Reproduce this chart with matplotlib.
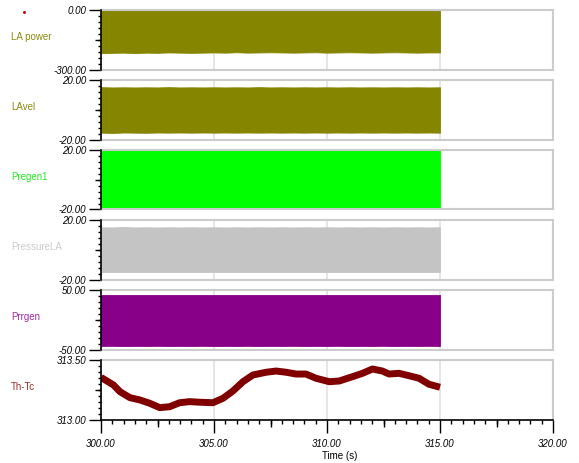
import numpy as np
import matplotlib
matplotlib.use("Agg")
import matplotlib.pyplot as plt
from matplotlib.lines import Line2D

plt.rcParams['font.family'] = ['Liberation Sans', 'DejaVu Sans']

# ---- data (envelopes of the fast oscillating signals) ----
t_env = [300.0, 300.5, 301.0, 301.5, 302.0, 302.5, 303.0, 303.5, 304.0, 304.5,
         305.0, 305.5, 306.0, 306.5, 307.0, 307.5, 308.0, 308.5, 309.0, 309.5,
         310.0, 310.5, 311.0, 311.5, 312.0, 312.5, 313.0, 313.5, 314.0, 314.5, 315.0]

la_power_hi = [0.0] * 31
la_power_lo = [-218, -216, -215, -217, -215, -216, -214, -215, -216, -215,
               -214, -215, -213, -215, -214, -213, -214, -215, -214, -213,
               -215, -214, -213, -214, -215, -214, -213, -214, -215, -214, -214]

lavel_hi = [15.2, 15.0, 15.1, 15.0, 15.1, 15.0, 15.2, 15.0, 15.1, 15.0,
            15.1, 15.0, 15.1, 15.0, 15.2, 15.0, 15.1, 15.0, 15.1, 15.0,
            15.1, 15.0, 15.1, 15.0, 15.1, 15.0, 15.1, 15.0, 15.1, 15.0, 15.1]
lavel_lo = [-15.4, -15.6, -15.3, -15.4, -15.5, -15.3, -15.4, -15.3, -15.4, -15.3,
            -15.4, -15.3, -15.4, -15.3, -15.4, -15.3, -15.4, -15.3, -15.4, -15.3,
            -15.4, -15.3, -15.4, -15.3, -15.4, -15.3, -15.4, -15.3, -15.4, -15.3, -15.4]

pregen1_hi = [19.9] * 31
pregen1_lo = [-19.4, -19.5, -19.3, -19.4, -19.5, -19.4, -19.3, -19.4, -19.5, -19.4,
              -19.3, -19.4, -19.5, -19.4, -19.3, -19.4, -19.5, -19.4, -19.3, -19.4,
              -19.5, -19.4, -19.3, -19.4, -19.5, -19.4, -19.3, -19.4, -19.5, -19.4, -19.3]

pressure_hi = [15.1, 15.0, 15.3, 15.0, 15.1, 15.0, 15.1, 15.0, 15.1, 15.0,
               15.1, 15.0, 15.1, 15.0, 15.1, 15.0, 15.1, 15.0, 15.1, 15.0,
               15.1, 15.0, 15.1, 15.0, 15.1, 15.0, 15.1, 15.0, 15.1, 15.0, 15.1]
pressure_lo = [-14.9, -15.0, -14.9, -15.0, -14.9, -15.0, -14.9, -15.0, -14.9, -15.0,
               -14.9, -15.0, -14.9, -15.0, -14.9, -15.0, -14.9, -15.0, -14.9, -15.0,
               -14.9, -15.0, -14.9, -15.0, -14.9, -15.0, -14.9, -15.0, -14.9, -15.0, -14.9]

prrgen_hi = [41.6] * 31
prrgen_lo = [-44.0, -43.8, -44.2, -43.9, -44.0, -43.8, -44.1, -43.9, -44.0, -43.8,
             -44.1, -43.9, -44.0, -43.8, -44.1, -43.9, -44.0, -43.8, -44.1, -43.9,
             -44.0, -43.8, -44.1, -43.9, -44.0, -43.8, -44.1, -43.9, -44.0, -43.8, -44.0]

t_thtc = [300.0, 300.55, 300.84, 301.28, 301.72, 302.16, 302.6, 303.04, 303.48, 303.92,
          304.37, 304.95, 305.4, 305.84, 306.28, 306.72, 307.31, 307.75, 308.19, 308.63,
          309.07, 309.51, 310.1, 310.54, 311.13, 311.57, 312.01, 312.45, 312.75, 313.19,
          313.63, 314.07, 314.51, 315.0]
thtc = [313.355, 313.292, 313.236, 313.186, 313.167, 313.139, 313.103, 313.111, 313.144, 313.153,
        313.148, 313.144, 313.181, 313.242, 313.319, 313.375, 313.398, 313.408, 313.398, 313.383,
        313.383, 313.348, 313.319, 313.325, 313.361, 313.389, 313.425, 313.408, 313.383, 313.389,
        313.369, 313.348, 313.298, 313.273]

labels = ["LA power", "LAvel", "Pregen1", "PressureLA", "Prrgen", "Th-Tc"]
ylims = [(-300.0, 0.0), (-20.0, 20.0), (-20.0, 20.0), (-20.0, 20.0), (-50.0, 50.0), (313.0, 313.5)]
colors = ["#858500", "#858500", "#00ff00", "#c4c4c4", "#870087", "#800000"]
label_colors = ["#8a8a10", "#8a8a10", "#22ee22", "#cccccc", "#a02ca0", "#a02c2c"]
bands = [(la_power_lo, la_power_hi), (lavel_lo, lavel_hi), (pregen1_lo, pregen1_hi),
         (pressure_lo, pressure_hi), (prrgen_lo, prrgen_hi)]

xlim = (300.0, 320.0)
xmajor = [300, 305, 310, 315, 320]

W, H = 579, 463
fig = plt.figure(figsize=(W / 100, H / 100), dpi=100)

left_px, right_px = 101, 553
frame_col = "#cccccc"
tickfont = dict(fontsize=7, fontstyle='italic')

axes = []
for i in range(6):
    top = 10 + 70 * i
    h = 59.5 if i < 5 else 60
    ax = fig.add_axes([left_px / W, 1 - (top + h) / H, (right_px - left_px) / W, h / H])
    axes.append(ax)
    lo, hi = ylims[i]
    ax.set_xlim(*xlim)
    ax.set_ylim(lo, hi)
    ax.set_xticks(xmajor)
    ax.grid(axis='x', color='#e4e4e4', lw=1.3)
    ax.set_axisbelow(True)
    if i < 5:
        ax.fill_between(t_env, bands[i][0], bands[i][1], color=colors[i], lw=0.6,
                        edgecolor=colors[i], zorder=2)
    else:
        ax.plot(t_thtc, thtc, color=colors[i], lw=5, solid_capstyle='butt', zorder=2)
    # spines
    for s in ['top', 'right', 'bottom']:
        ax.spines[s].set_color(frame_col)
        ax.spines[s].set_linewidth(1.5)
    ax.spines['left'].set_color('black')
    ax.spines['left'].set_linewidth(1.2)
    ax.spines['left'].set_zorder(5)
    # y ticks
    ax.set_yticks([lo, hi])
    ax.set_yticklabels(["%.2f" % lo, "%.2f" % hi], **tickfont)
    ax.set_yticks(list(np.linspace(lo, hi, 11)), minor=True)
    ax.tick_params(axis='y', which='major', length=8.6, width=1.0, pad=2, color='black')
    ax.tick_params(axis='y', which='minor', length=2.3, width=1.0, color='black')
    sec = ax.secondary_yaxis('left')
    sec.spines['left'].set_visible(False)
    sec.set_yticks([(lo + hi) / 2])
    sec.set_yticklabels([""])
    sec.tick_params(axis='y', length=4.3, width=1.0)
    # label
    yc = 1 - (top + h / 2 - 3) / H
    fig.text(11 / W, yc, labels[i], color=label_colors[i], fontsize=7, ha='left', va='center')
    if i < 5:
        ax.tick_params(axis='x', which='both', bottom=False, labelbottom=False)

ax6 = axes[-1]
ax6.spines['bottom'].set_color('black')
ax6.spines['bottom'].set_linewidth(1.2)
ax6.set_xticklabels(["%.2f" % v for v in xmajor], **tickfont)
ax6.set_xticks(list(np.arange(300, 320.01, 0.5)), minor=True)
ax6.tick_params(axis='x', which='major', length=9.4, width=1.0, pad=4.5)
ax6.tick_params(axis='x', which='minor', length=2.9, width=1.0)
secx = ax6.secondary_xaxis('bottom')
secx.spines['bottom'].set_visible(False)
secx.set_xticks([302.5, 307.5, 312.5, 317.5])
secx.set_xticklabels([""] * 4)
secx.tick_params(axis='x', length=5.0, width=1.0)

fig.text(340 / W, 1 - 456 / H, "Time (s)", fontsize=7, ha='center', va='center')
fig.add_artist(Line2D([24 / W], [1 - 12 / H], marker='s', ms=1, color='#cc0000', lw=0))

fig.savefig("out.png", dpi=100)
